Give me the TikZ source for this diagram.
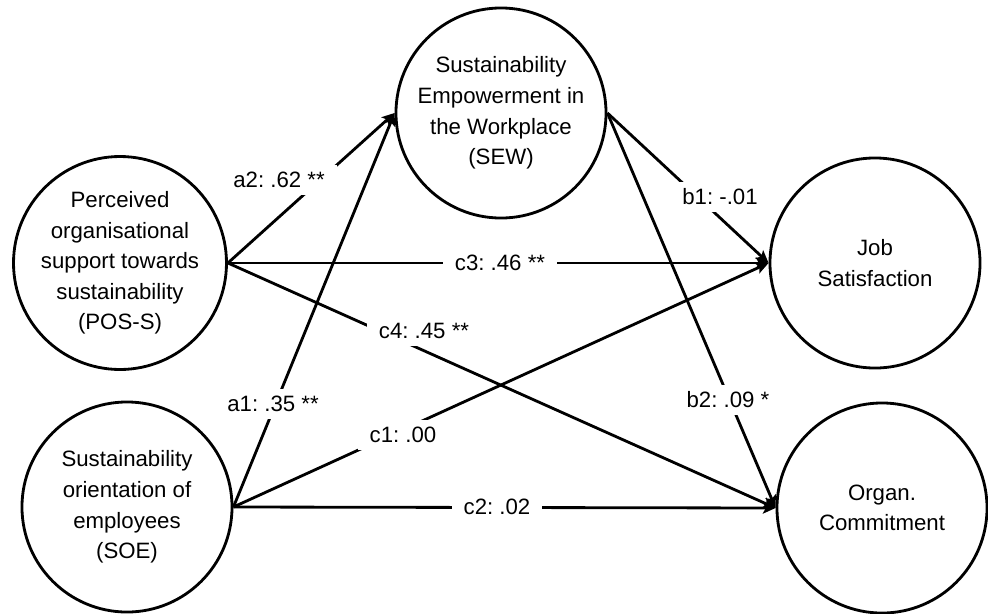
\documentclass[tikz,border=0pt]{standalone}
\usepackage{fontspec}
\setmainfont{Liberation Sans}
\usetikzlibrary{arrows.meta}
\newcommand{\pathfont}{\fontsize{15.8}{21.7}\selectfont\frenchspacing}
\tikzset{
  construct/.style={circle, draw, line width=2pt, minimum size=5.25cm, inner sep=0pt, align=center, font=\pathfont},
  effect/.style={line width=2pt, -{Stealth[length=9pt,width=8pt,inset=2pt]}},
  coef/.style={fill=white, inner xsep=8.5pt, inner ysep=5pt, font=\pathfont}
}
\newcommand{\drawpath}{\draw[effect]}

\begin{document}
\begin{tikzpicture}[x=0.025cm, y=-0.025cm]
\useasboundingbox (0,0) rectangle (988,613);
% constructs
\node[construct] (sew) at (501,113) {Sustainability\\Empowerment in\\the Workplace\\(SEW)};
\node[construct] (pos) at (120,263) {Perceived\\organisational\\support towards\\sustainability\\(POS-S)};
\node[construct] (soe) at (127,507) {Sustainability\\orientation of\\employees\\(SOE)};
\node[construct] (job) at (875,263) {Job\\Satisfaction};
\node[construct] (org) at (882,508) {Organ.\\Commitment};
% paths
\drawpath (pos.east)--(sew.west);
\drawpath (soe.east)--(sew.west);
\drawpath (pos.east)--(job.west);
\drawpath (pos.east)--(org.west);
\drawpath (soe.east)--(job.west);
\drawpath (soe.east)--(org.west);
\drawpath (sew.east)--(job.west);
\drawpath (sew.east)--(org.west);
% coefficients
\node[coef] (a2) at (279,180) {a2: .62 **};
\node[coef] (a1) at (273,404) {a1: .35 **};
\node[coef] (c3) at (500,263) {c3: .46 **};
\node[coef] (c4) at (424,331) {c4: .45 **};
\node[coef] (c1) at (403,435) {c1: .00};
\node[coef] (c2) at (497,507) {c2: .02};
\node[coef] (b1) at (720,197) {b1: -.01};
\node[coef] (b2) at (728,400) {b2: .09 *};
\end{tikzpicture}
\end{document}
